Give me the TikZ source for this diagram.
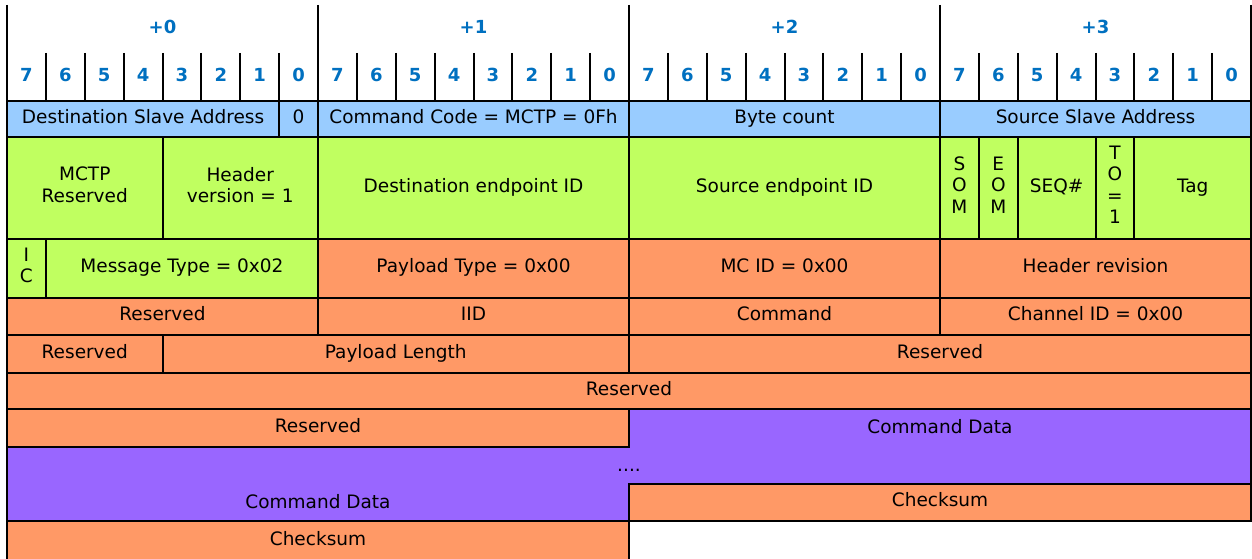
\documentclass[tikz,border=0pt]{standalone}
\usepackage{fontspec}
\setmainfont{DejaVu Sans}
\usetikzlibrary{positioning}
\definecolor{smbus}{HTML}{99CCFF}
\definecolor{mctp}{HTML}{C0FF60}
\definecolor{vdmfill}{HTML}{FF9966}
\definecolor{cmddata}{HTML}{9966FF}
\definecolor{bitnum}{HTML}{0070C0}

\begin{document}
\begin{tikzpicture}[
    x=1pt, y=1pt,
    node distance=0pt,
    txt/.style={font=\fontsize{18.5}{21.5}\selectfont},
    fld/.style={txt, draw, line width=2pt, inner sep=0pt, outer sep=0pt, align=center,
      execute at begin node=\strut, execute at end node=\strut},
    bits/.style={minimum width=#1*38.875pt},
    ht/.style={minimum height=#1pt},
    smb/.style={fld, fill=smbus},
    hdr/.style={fld, fill=mctp},
    pay/.style={fld, fill=vdmfill},
    num/.style={font=\fontsize{18}{20}\selectfont\bfseries, text=bitnum},
    rule/.style={line width=2pt},
  ]
    \useasboundingbox (0,0) rectangle (1252,-559);

    % byte / bit header
    \foreach \b in {0,...,3}
      \node[num] (byte\b) at (162.5+311*\b, -27) {+\b};
    \foreach \i in {0,...,31} {
      \pgfmathtruncatemacro\n{7-mod(\i,8)}
      \node[num] (bit\i) at (26.44+38.875*\i, -75) {\n};
    }
    \foreach \i in {1,...,31}
      \draw[rule] (7+38.875*\i, -53) -- (7+38.875*\i, -101);
    \foreach \b in {0,...,4}
      \draw[rule] (7+311*\b, -5) -- (7+311*\b, -101);

    % SMBus header
    \node[smb, bits=7, ht=36, anchor=north west] (dsa) at (7,-101) {Destination Slave Address};
    \node[smb, bits=1, ht=36, right=of dsa]     (dsa0)    {0};
    \node[smb, bits=8, ht=36, right=of dsa0]    (cmdcode) {Command Code = MCTP = 0Fh};
    \node[smb, bits=8, ht=36, right=of cmdcode] (bytecnt) {Byte count};
    \node[smb, bits=8, ht=36, right=of bytecnt] (ssa)     {Source Slave Address};

    % MCTP transport header
    \node[hdr, bits=4, ht=102, anchor=north west] (mrsvd) at (7,-137) {MCTP\\Reserved};
    \node[hdr, bits=4, ht=102, right=of mrsvd]  (hdrver) {Header\\version = 1};
    \node[hdr, bits=8, ht=102, right=of hdrver] (deid)   {Destination endpoint ID};
    \node[hdr, bits=8, ht=102, right=of deid]   (seid)   {Source endpoint ID};
    \node[hdr, bits=1, ht=102, right=of seid]   (som)    {S\\O\\M};
    \node[hdr, bits=1, ht=102, right=of som]    (eom)    {E\\O\\M};
    \node[hdr, bits=2, ht=102, right=of eom]    (seq)    {SEQ\#};
    \node[hdr, bits=1, ht=102, right=of seq]    (tobit)  {T\\O\\=\\1};
    \node[hdr, bits=3, ht=102, right=of tobit]  (tag)    {Tag};

    % message header
    \node[hdr, bits=1, ht=59, anchor=north west] (ic) at (7,-239) {I\\C};
    \node[hdr, bits=7, ht=59, right=of ic]      (msgtype) {Message Type = 0x02};
    \node[pay, bits=8, ht=59, right=of msgtype] (paytype) {Payload Type = 0x00};
    \node[pay, bits=8, ht=59, right=of paytype] (mcid)    {MC ID = 0x00};
    \node[pay, bits=8, ht=59, right=of mcid]    (hdrrev)  {Header revision};

    \node[pay, bits=8, ht=37, anchor=north west] (rsvda) at (7,-298) {Reserved};
    \node[pay, bits=8, ht=37, right=of rsvda] (iid)  {IID};
    \node[pay, bits=8, ht=37, right=of iid]   (cmd)  {Command};
    \node[pay, bits=8, ht=37, right=of cmd]   (chid) {Channel ID = 0x00};

    \node[pay, bits=4, ht=38, anchor=north west] (rsvdb) at (7,-335) {Reserved};
    \node[pay, bits=12, ht=38, right=of rsvdb]  (paylen) {Payload Length};
    \node[pay, bits=16, ht=38, right=of paylen] (rsvdc)  {Reserved};

    \node[pay, bits=32, ht=36, anchor=north west] (rsvdd) at (7,-373) {Reserved};

    % command data block
    \draw[rule, fill=cmddata] (7,-447) -| (629,-409) -| (1251,-484) -| (629,-521) -| (7,-447) -- cycle;
    \node[pay, bits=16, ht=38, anchor=north west] (rsvde) at (7,-409) {Reserved};
    \node[txt] (cdright) at (940,-427) {Command Data};
    \node[txt, anchor=base] (dots) at (629,-471) {....};
    \node[txt] (cdleft) at (318,-502) {Command Data};

    \node[pay, bits=16, ht=37, anchor=north west] (csright) at (629,-484) {Checksum};
    \node[pay, bits=16, ht=41, anchor=north west] (csleft) at (7,-521) {Checksum};
  \end{tikzpicture}
\end{document}
